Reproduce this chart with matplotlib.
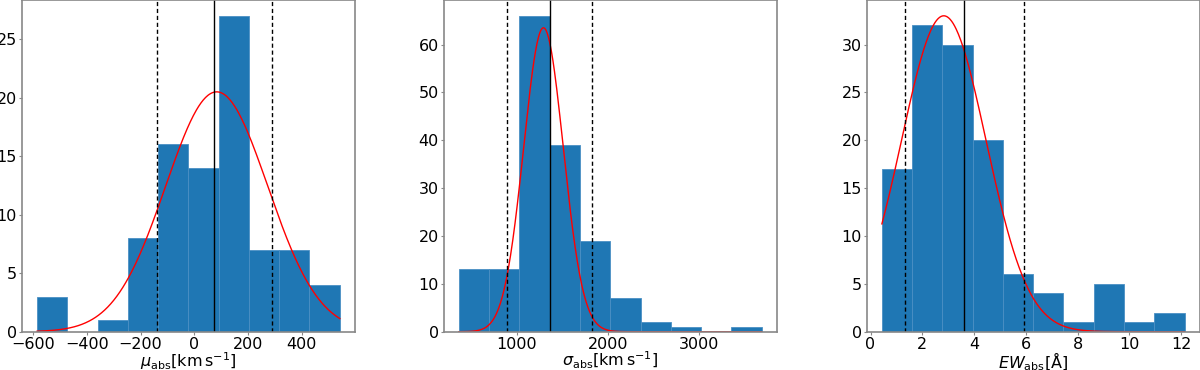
import numpy as np
import matplotlib
matplotlib.use("Agg")
import matplotlib.pyplot as plt
from matplotlib.ticker import MultipleLocator

# bin edges and counts
mu_edges = [-585, -472, -360, -247, -135, -22, 91, 203, 316, 428, 541]
mu_counts = [3, 0, 1, 8, 16, 14, 27, 7, 7, 4]
mu_mean, mu_lo, mu_hi = 73, -139, 287
mu_fit = (20.5, 83, 190)  # amplitude, centre, sigma of the red gaussian

sig_edges = [361, 694, 1028, 1361, 1694, 2028, 2361, 2694, 3028, 3361, 3694]
sig_counts = [13, 13, 66, 39, 19, 7, 2, 1, 0, 1]
sig_mean, sig_lo, sig_hi = 1360, 887, 1830
sig_fit = (63.5, 1292, 218)

ew_edges = [0.44, 1.61, 2.78, 3.95, 5.12, 6.29, 7.45, 8.62, 9.79, 10.96, 12.13]
ew_counts = [17, 32, 30, 20, 6, 4, 1, 5, 1, 2]
ew_mean, ew_lo, ew_hi = 3.62, 1.32, 5.91
ew_fit = (33.0, 2.83, 1.63)

xlabels = [r"$\mu_{\rm abs} [\rm km\,s^{-1}]$",
           r"$\sigma_{\rm abs} [\rm km\,s^{-1}]$",
           r"$EW_{\rm abs} [\rm \AA]$"]
xsteps = [200, 1000, 2]
ysteps = [5, 10, 5]

plt.rcParams['font.size'] = 11.5

fig = plt.figure(figsize=(12, 3.7), dpi=100)
lefts = [0.0183, 0.3698, 0.7223]
panels = [
    (mu_edges, mu_counts, mu_mean, mu_lo, mu_hi, mu_fit),
    (sig_edges, sig_counts, sig_mean, sig_lo, sig_hi, sig_fit),
    (ew_edges, ew_counts, ew_mean, ew_lo, ew_hi, ew_fit),
]

for i, (edges, counts, mean, lo, hi, fit) in enumerate(panels):
    ax = fig.add_axes([lefts[i], 0.1035, 0.2775, 0.8965])
    edges = np.array(edges, dtype=float)
    ax.hist(edges[:-1], bins=edges, weights=counts, color='#1f77b4',
            edgecolor='#4a8fc4', linewidth=0.6)

    # gaussian fit curve
    amp, c, s = fit
    xx = np.linspace(edges[0], edges[-1], 400)
    ax.plot(xx, amp * np.exp(-0.5 * ((xx - c) / s) ** 2), color='red', lw=1.0)

    ax.axvline(mean, color='black', lw=1.0)
    ax.axvline(lo, color='black', lw=1.0, ls='--', dashes=(3, 2))
    ax.axvline(hi, color='black', lw=1.0, ls='--', dashes=(3, 2))

    ax.xaxis.set_major_locator(MultipleLocator(xsteps[i]))
    ax.yaxis.set_major_locator(MultipleLocator(ysteps[i]))
    ax.set_xlabel(xlabels[i], labelpad=-1)
    for sp in ax.spines.values():
        sp.set_color('#888888')
        sp.set_linewidth(1.2)
    ax.tick_params(color='#888888', labelcolor='black', length=2.5, pad=1.0)

fig.savefig("out.png", dpi=100)
